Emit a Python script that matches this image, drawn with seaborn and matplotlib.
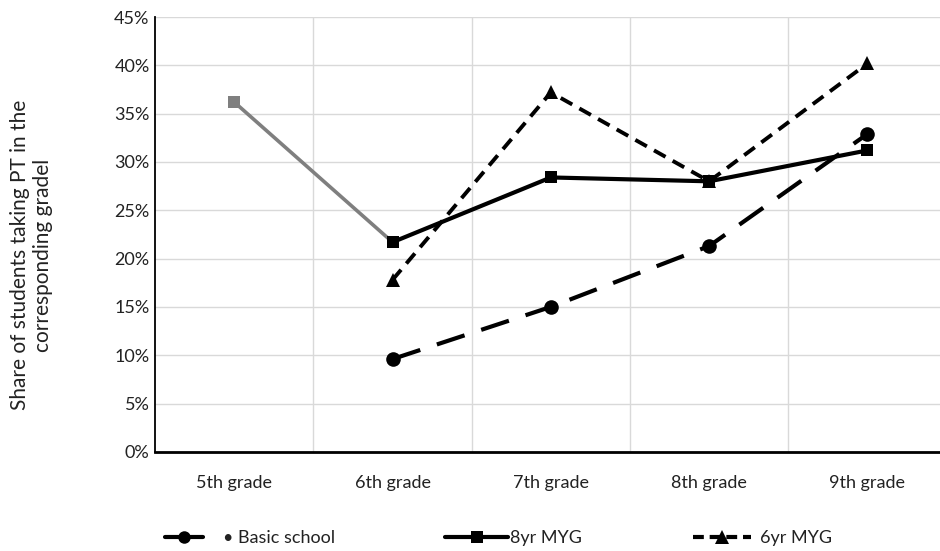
import numpy as np
import pandas as pd
import matplotlib
matplotlib.use("Agg")
import matplotlib.pyplot as plt
import seaborn as sns
from matplotlib.lines import Line2D
from matplotlib.ticker import PercentFormatter

# values (share of students, %)
grades = ["5th grade", "6th grade", "7th grade", "8th grade", "9th grade"]
basic_school = [np.nan, 9.6, 15.0, 21.3, 32.9]
myg_8yr = [np.nan, 21.7, 28.4, 28.0, 31.2]
myg_6yr = [np.nan, 17.8, 37.2, 28.0, 40.2]
myg_8yr_lead = [36.2, 21.7, np.nan, np.nan, np.nan]  # grey segment 5th -> 6th

sns.set_theme(style="white")
plt.rcParams["font.family"] = ["Lato", "DejaVu Sans"]

fig = plt.figure(figsize=(9.4, 5.51), dpi=100)
ax = fig.add_axes([0.165, 0.18, 0.842, 0.789])

pos = np.arange(len(grades))

def draw(vals, **kw):
    df = pd.DataFrame({"x": pos, "y": vals}).dropna()
    sns.lineplot(data=df, x="x", y="y", ax=ax, sort=False, **kw)

draw(myg_8yr_lead, color="#7f7f7f", lw=2.6, marker="s", markersize=9,
     markeredgewidth=0, zorder=2)
draw(basic_school, color="black", lw=3, linestyle=(0, (7, 4.2)), marker="o",
     markersize=10.5, markeredgewidth=0, zorder=3)
draw(myg_8yr, color="black", lw=3, marker="s", markersize=9,
     markeredgewidth=0, zorder=4)
draw(myg_6yr, color="black", lw=2.8, linestyle=(0, (3.4, 2.1)), marker="^",
     markersize=10, markeredgewidth=0, zorder=5)

ax.set_xlim(-0.5, len(grades) - 0.5)
ax.set_ylim(0, 45)
ax.set_yticks(np.arange(0, 46, 5))
ax.yaxis.set_major_formatter(PercentFormatter(decimals=0))
ax.set_xticks(pos)
ax.set_xticklabels(grades)
ax.set_xticks(np.arange(0.5, len(grades), 1), minor=True)

ax.grid(axis="y", which="major", color="#d9d9d9", lw=1)
ax.grid(axis="x", which="minor", color="#d9d9d9", lw=1)
ax.grid(axis="x", which="major", visible=False)
ax.set_axisbelow(True)

ax.tick_params(axis="both", which="both", length=0, labelsize=13,
               colors="#222222")
ax.tick_params(axis="x", pad=17)
ax.tick_params(axis="y", pad=4)

for side in ["top", "right"]:
    ax.spines[side].set_visible(False)
ax.spines["left"].set_color("black")
ax.spines["left"].set_linewidth(1.3)
ax.spines["bottom"].set_color("black")
ax.spines["bottom"].set_linewidth(2)

ax.set_xlabel("")
ax.set_ylabel("Share of students taking PT in the\ncorresponding gradel",
              fontsize=15, color="#222222")
ax.yaxis.set_label_coords(-0.129, 0.453)

# legend entries, placed one by one like the original
legend_items = [
    (Line2D([], [], color="black", lw=3, marker="o", markersize=9,
            markevery=[1], markeredgewidth=0),
     "\u2022 Basic school", 165, 2.1, 1.1),
    (Line2D([], [], color="black", lw=3, marker="s", markersize=9,
            markeredgewidth=0),
     "8yr MYG", 445, 3.5, 0.1),
    (Line2D([], [], color="black", lw=3, linestyle=(0, (2.6, 1.4)),
            marker="^", markersize=9.5, markeredgewidth=0),
     "6yr MYG", 693, 3.2, 0.5),
]
for handle, label, x_px, hl, pad in legend_items:
    leg = fig.legend([handle], [label], loc="center left",
                     bbox_to_anchor=(x_px / 940, 1 - 538 / 551),
                     frameon=False, fontsize=13, handlelength=hl,
                     handletextpad=pad, borderpad=0, borderaxespad=0)
    for t in leg.get_texts():
        t.set_color("#222222")

fig.savefig("out.png", dpi=100)
